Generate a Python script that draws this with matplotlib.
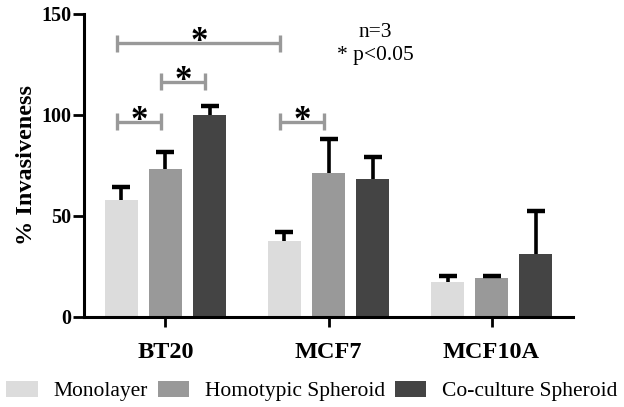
import matplotlib
matplotlib.use("Agg")
import matplotlib.pyplot as plt
import numpy as np

# ---- data ----
groups = ["BT20", "MCF7", "MCF10A"]
series = ["Monolayer", "Homotypic Spheroid", "Co-culture Spheroid"]
monolayer = [58.0, 37.5, 17.3]
homotypic = [73.3, 71.0, 19.3]
coculture = [100.0, 68.2, 31.0]
err_monolayer = [6.0, 4.3, 2.8]
err_homotypic = [8.4, 17.0, 0.7]
err_coculture = [4.5, 11.0, 21.3]
yticks = [0, 50, 100, 150]
# significance brackets: ((group, series), (group, series), height)
brackets = [((0, 0), (1, 0), 135.4), ((0, 1), (0, 2), 116.4),
            ((0, 0), (0, 1), 96.5), ((1, 0), (1, 1), 96.5)]
note = "n=3\n* p<0.05"

colors = ["#dcdcdc", "#999999", "#444444"]
serif = ["Liberation Serif", "DejaVu Serif"]
plt.rcParams["font.family"] = serif

fig = plt.figure(figsize=(6.24, 4.07), dpi=100)
ax = fig.add_axes([0.1346, 0.2219, 0.7837, 0.7444])

x = np.arange(len(groups))
pitch = 0.27
width = 0.2
vals = [monolayer, homotypic, coculture]
errs = [err_monolayer, err_homotypic, err_coculture]
handles = []
for i, (v, e) in enumerate(zip(vals, errs)):
    pos = x + (i - 1) * pitch
    v = np.asarray(v)
    e = np.asarray(e)
    b = ax.bar(pos, v, width, color=colors[i], label=series[i], zorder=2)
    ax.errorbar(pos, v, yerr=[np.zeros(len(e)), e], fmt="none",
                ecolor="black", elinewidth=2.6, capsize=0, zorder=3)
    ax.plot(pos, v + e, linestyle="none", marker="_", markersize=13.5,
            markeredgewidth=3.2, color="black", zorder=3)
    handles.append(b)

def xpos(gs):
    return gs[0] + (gs[1] - 1) * pitch - 0.025

for a, b, h in brackets:
    x1, x2 = xpos(a), xpos(b)
    ax.plot([x1, x2], [h, h], color="#999999", lw=2.4, solid_capstyle="butt",
            zorder=4, clip_on=False)
    for xx in (x1, x2):
        ax.plot([xx, xx], [h - 4.2, h + 4.2], color="#999999", lw=2.4,
                solid_capstyle="butt", zorder=4, clip_on=False)
    ax.text((x1 + x2) / 2, h - 4.0, "*", ha="center", va="baseline",
            fontsize=25, fontweight="bold", color="black", zorder=5)

ax.text(1.29, 135, note, ha="center", va="center", fontsize=15.5,
        linespacing=1.25, multialignment="center")

ax.set_xlim(-0.5, 2.5)
ax.set_ylim(0, 150)
ax.set_yticks(yticks)
ax.set_xticks(x)
ax.set_xticklabels(groups, fontsize=17.5, fontweight="bold")
for lab in ax.get_yticklabels():
    lab.set_fontsize(14.5)
    lab.set_fontweight("bold")
ax.tick_params(axis="y", length=8, width=2, pad=1)
ax.tick_params(axis="x", length=7, width=2, pad=11)
for s in ["top", "right"]:
    ax.spines[s].set_visible(False)
for s in ["left", "bottom"]:
    ax.spines[s].set_linewidth(2.2)
ax.set_ylabel("% Invasiveness", fontsize=17.5, fontweight="bold")
ax.yaxis.set_label_coords(-0.096, 0.5)

fig.legend(handles, series, loc="center", bbox_to_anchor=(0.5, 1 - 391 / 407),
           ncol=3, frameon=False, fontsize=15.5, handlelength=1.45,
           handleheight=0.75, handletextpad=0.75, columnspacing=0.45,
           borderaxespad=0, borderpad=0)

fig.savefig("out.png", dpi=100)
